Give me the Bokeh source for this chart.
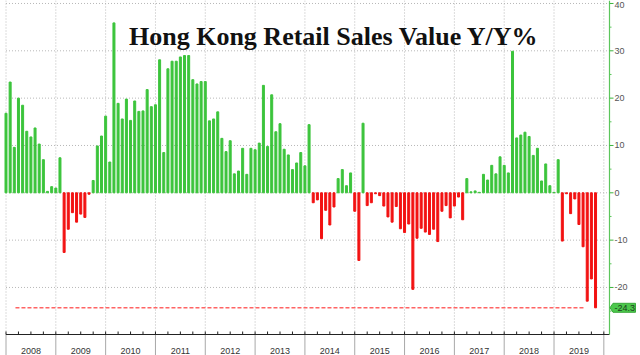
from bokeh.plotting import figure
from bokeh.models import Range1d, ColumnDataSource
from bokeh.core.properties import value
from bokeh.embed import file_html
from bokeh.resources import INLINE

# Hong Kong retail sales value, y/y %, monthly (plotted at month end)
dec_2007 = [16.8]
y2008 = [23.4, 9.6, 20.0, 18.5, 13.0, 11.8, 13.7, 10.3, 7.0, 0.3, 1.3, 1.0]
y2009 = [7.4, -12.6, -7.7, -4.2, -6.2, -4.5, -5.2, -0.3, 2.6, 9.9, 12.0, 16.2]
y2010 = [6.5, 35.9, 18.9, 15.6, 19.8, 15.3, 19.4, 17.2, 17.3, 21.8, 18.2, 18.6]
y2011 = [28.1, 8.5, 26.2, 27.8, 27.8, 28.7, 29.0, 29.0, 23.9, 23.0, 23.5, 23.5]
y2012 = [15.2, 15.6, 17.1, 11.5, 8.7, 11.0, 4.0, 4.6, 9.4, 3.9, 9.4, 9.1]
y2013 = [10.5, 22.7, 9.8, 20.7, 12.9, 14.6, 9.2, 8.0, 4.9, 6.3, 8.5, 5.7]
y2014 = [14.4, -2.1, -1.5, -9.7, -3.7, -6.8, -3.0, 3.0, 4.9, 1.5, 4.2, -3.9]
y2015 = [-14.3, 14.7, -2.7, -2.1, -0.2, -0.6, -2.8, -5.1, -6.2, -2.9, -7.6, -8.4]
y2016 = [-6.6, -20.4, -9.6, -7.5, -8.3, -8.8, -7.7, -10.3, -3.9, -2.7, -5.3, -2.8]
y2017 = [-0.9, -5.7, 3.0, 0.2, 0.4, 0.1, 3.9, 2.7, 5.8, 4.0, 7.6, 5.8]
y2018 = [4.2, 29.9, 11.6, 12.2, 12.8, 11.9, 7.9, 9.4, 2.5, 6.1, 1.5, 0.1]
y2019 = [7.0, -10.2, -0.2, -4.4, -1.3, -6.7, -11.4, -22.9, -18.2, -24.3]

years = list(range(2008, 2020))
yearly = [y2008, y2009, y2010, y2011, y2012, y2013, y2014, y2015, y2016, y2017, y2018, y2019]
y_ticks = [-20, -10, 0, 10, 20, 30, 40]
y_minor = [-25, -15, -5, 5, 15, 25, 35]
title_text = "Hong Kong Retail Sales Value Y/Y%"

# ---- layout (pixel geometry of the frame) ----
W, H = 640, 355
PX_PER_YEAR = 49.82
X0_PX = 5.5            # screen x of 2008.0
PX_PER_UNIT = 4.733
ZERO_PY = 192.3        # screen y of 0 %
AXIS_X_PX = 609        # right axis line
AXIS_Y_PX = 334        # bottom axis line


def dx(n):
    return n / PX_PER_YEAR


def dy(n):
    return n / PX_PER_UNIT


x_lo = 2008 - dx(X0_PX)
x_hi = x_lo + dx(W)
y_hi = dy(ZERO_PY)
y_lo = y_hi - dy(H)
AX_X = x_lo + dx(AXIS_X_PX)
AX_Y = y_hi - dy(AXIS_Y_PX)

GREEN = "#3CC43C"
RED = "#F21212"
AXIS_GREEN = "#5CC65C"

xs, vals = [2008.0], [dec_2007[0]]
for yr, arr in zip(years, yearly):
    for m, v in enumerate(arr, start=1):
        xs.append(yr + m / 12.0)
        vals.append(v)
colors = [GREEN if v >= 0 else RED for v in vals]
src = ColumnDataSource(dict(x=xs, top=vals, color=colors))
last_val = vals[-1]

p = figure(width=W, height=H, x_range=Range1d(x_lo, x_hi), y_range=Range1d(y_lo, y_hi),
           output_backend="svg", toolbar_location=None,
           min_border=0, min_border_left=0, min_border_right=0,
           min_border_top=0, min_border_bottom=0)
p.axis.visible = False
p.grid.visible = False
p.outline_line_color = None
p.background_fill_color = "white"
p.border_fill_color = "white"

bounds = years + [2020]

# grid (dotted)
p.segment(x0=[2008.0] * len(y_ticks), x1=[AX_X] * len(y_ticks), y0=y_ticks, y1=y_ticks,
          line_color="#B8B8B8", line_dash="1 2", line_width=1)
p.segment(x0=bounds, x1=bounds, y0=[AX_Y] * len(bounds), y1=[y_hi] * len(bounds),
          line_color="#B8B8B8", line_dash="1 2", line_width=1)

# bars
p.vbar(x="x", top="top", bottom=0, width=0.04, color="color", source=src)

# reference level line at the latest value
p.segment(x0=[2008.19], y0=[last_val], x1=[2019.63], y1=[last_val],
          line_color="#FF6464", line_width=1.5, line_dash="4 2")

# bottom axis: line, year separators, quarter ticks, year labels
p.segment(x0=bounds, x1=bounds, y0=[y_lo] * len(bounds), y1=[AX_Y] * len(bounds),
          line_color="#A8A8A8", line_width=1)
quarters = [yr + q / 4.0 for yr in years for q in range(4)] + [2020]
p.segment(x0=quarters, x1=quarters, y0=[AX_Y] * len(quarters),
          y1=[AX_Y + dy(3)] * len(quarters), line_color="#222222", line_width=1)
p.segment(x0=[2008.0], x1=[AX_X], y0=[AX_Y], y1=[AX_Y], line_color="#222222", line_width=1)
p.text(x=[yr + 0.5 for yr in years], y=[AX_Y - dy(16)] * len(years),
       text=[str(yr) for yr in years], text_align="center", text_baseline="middle",
       text_font=value("Liberation Sans"), text_font_size="9px", text_color="#333333")

# right axis
p.segment(x0=[AX_X], x1=[AX_X], y0=[AX_Y], y1=[y_hi], line_color=AXIS_GREEN, line_width=1.2)
p.segment(x0=[AX_X] * len(y_ticks), x1=[AX_X + dx(4)] * len(y_ticks), y0=y_ticks, y1=y_ticks,
          line_color="#3CB43C", line_width=1)
p.segment(x0=[AX_X] * len(y_minor), x1=[AX_X + dx(2)] * len(y_minor), y0=y_minor, y1=y_minor,
          line_color=AXIS_GREEN, line_width=1)
label_y = [min(t, y_hi - dy(4.5)) for t in y_ticks]
p.text(x=[AX_X + dx(5)] * len(y_ticks), y=label_y, text=[str(t) for t in y_ticks],
       text_align="left", text_baseline="middle", text_font=value("Liberation Sans"),
       text_font_size="9px", text_color="#555555")

# latest value badge
bx = [AX_X + dx(0.5), AX_X + dx(3.5), AX_X + dx(26), AX_X + dx(26), AX_X + dx(3.5)]
by = [last_val, last_val + dy(4.5), last_val + dy(4.5), last_val - dy(4.5), last_val - dy(4.5)]
p.patch(x=bx, y=by, fill_color="#4CC84C", line_color="#3AA83A", line_width=1)
p.text(x=[AX_X + dx(5)], y=[last_val], text=[f"{last_val:.1f}"], text_align="left",
       text_baseline="middle", text_font=value("Liberation Sans"), text_font_size="9px",
       text_color="#1E3A1E")

# title
p.text(x=[x_lo + dx(333.5)], y=[y_hi - dy(36)], text=[title_text], text_align="center",
       text_baseline="alphabetic", text_font=value("Liberation Serif"),
       text_font_style="bold", text_font_size="26px", text_color="#111111")

open("out.html", "w").write(file_html(p, INLINE))
